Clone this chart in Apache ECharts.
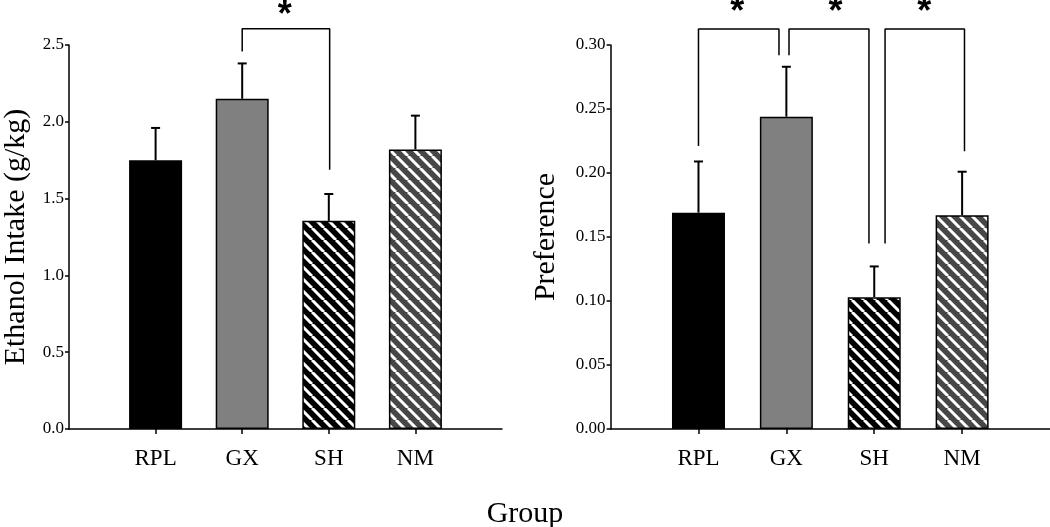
<!DOCTYPE html>
<html>
<head>
<meta charset="utf-8">
<script src="https://cdn.jsdelivr.net/npm/echarts@6/dist/echarts.min.js"></script>
<style>
html,body{margin:0;padding:0;background:#fff;}
#chart{width:1050px;height:527px;}
</style>
</head>
<body>
<div id="chart"></div>
<script>
// ---- data ----
const categories = ['RPL', 'GX', 'SH', 'NM'];
const intakeMean = [1.75, 2.15, 1.355, 1.82];
const intakeSem = [0.21, 0.23, 0.175, 0.22];
const prefMean = [0.169, 0.244, 0.103, 0.167];
const prefSem = [0.040, 0.039, 0.024, 0.034];
const intakeTicks = ['0.0', '0.5', '1.0', '1.5', '2.0', '2.5'];
const prefTicks = ['0.00', '0.05', '0.10', '0.15', '0.20', '0.25', '0.30'];
// significance brackets: [fromPos, toPos, leftFootY, topY, rightFootY]
const intakeBrackets = [[2.0, 3.01, 2.458, 2.606, 1.688]];
const prefBrackets = [
  [1.0, 1.916, 0.221, 0.3125, 0.292],
  [2.03, 2.94, 0.292, 0.3125, 0.145],
  [3.123, 4.027, 0.145, 0.3125, 0.217]
];
// significance stars: [pos, y]
const intakeStars = [[2.49, 2.73]];
const prefStars = [[1.44, 0.330], [2.56, 0.330], [3.57, 0.330]];

// ---- styles ----
function stripes(bg) {
  const c = document.createElement('canvas');
  c.width = 12; c.height = 12;
  const ctx = c.getContext('2d');
  ctx.fillStyle = bg; ctx.fillRect(0, 0, 12, 12);
  ctx.strokeStyle = '#fff'; ctx.lineWidth = 3;
  ctx.beginPath();
  for (let k = -1; k <= 1; k++) { ctx.moveTo(k * 12, 0); ctx.lineTo(k * 12 + 12, 12); }
  ctx.stroke();
  return c;
}
const fills = ['#000000', '#808080', { image: stripes('#000000'), repeat: 'repeat' }, { image: stripes('#474747'), repeat: 'repeat' }];
const serif = 'Liberation Serif';

function barData(means) {
  return means.map((v, i) => ({ value: [i + 1, v], itemStyle: { color: fills[i], borderColor: '#000', borderWidth: 1.5 } }));
}
function errData(means, sems) { return means.map((v, i) => [i + 1, v, sems[i]]); }

function errRender(params, api) {
  const x = api.value(0), m = api.value(1), s = api.value(2);
  const p0 = api.coord([x, m]), p1 = api.coord([x, m + s]);
  const st = { stroke: '#000', lineWidth: 2 };
  return { type: 'group', children: [
    { type: 'line', shape: { x1: p0[0], y1: p0[1], x2: p1[0], y2: p1[1] }, style: st },
    { type: 'line', shape: { x1: p1[0] - 4.5, y1: p1[1], x2: p1[0] + 4.5, y2: p1[1] }, style: st }
  ] };
}
function starRender(params, api) {
  const p = api.coord([api.value(0), api.value(1)]);
  return { type: 'text', style: { text: '*', x: p[0], y: p[1] + 6, align: 'center', verticalAlign: 'middle',
    font: 'bold 36px "Liberation Sans"', fill: '#000' } };
}

function xAxisCfg(gi) {
  return {
    gridIndex: gi, type: 'value', min: 0, max: 5, interval: 1,
    axisLine: { show: true, onZero: false, lineStyle: { color: '#000', width: 1.5 } },
    axisTick: { show: true, length: 5, customValues: [1, 2, 3, 4], lineStyle: { color: '#000', width: 1.5 } },
    axisLabel: { customValues: [1, 2, 3, 4], formatter: v => categories[v - 1] || '', margin: 18,
      fontFamily: serif, fontSize: 23, color: '#000' },
    splitLine: { show: false }
  };
}
function yAxisCfg(gi, max, interval, ticks, name, gap) {
  return {
    gridIndex: gi, type: 'value', min: 0, max: max, interval: interval,
    name: name, nameLocation: 'middle', nameGap: gap,
    nameTextStyle: { fontFamily: serif, fontSize: 30, color: '#000' },
    axisLine: { show: true, lineStyle: { color: '#000', width: 1.5 } },
    axisTick: { show: true, length: 4, lineStyle: { color: '#000', width: 1.5 } },
    axisLabel: { margin: 5, fontFamily: serif, fontSize: 17, color: '#000',
      formatter: v => ticks[Math.round(v / interval)] },
    splitLine: { show: false }
  };
}
function bracketSeries(list, gi) {
  return list.map(b => ({
    type: 'line', xAxisIndex: gi, yAxisIndex: gi, clip: false, symbol: 'none', silent: true, z: 5,
    lineStyle: { color: '#000', width: 1.5 },
    data: [[b[0], b[2]], [b[0], b[3]], [b[1], b[3]], [b[1], b[4]]]
  }));
}

const chart = echarts.init(document.getElementById('chart'), null, { renderer: 'canvas' });
chart.setOption({
  backgroundColor: '#fff',
  animation: false,
  title: { text: 'Group', left: 'center', top: 494,
    textStyle: { fontFamily: serif, fontSize: 30, fontWeight: 'normal', color: '#000' } },
  grid: [
    { left: 66, top: 45, width: 436, height: 384 },
    { left: 610.6, top: 45, width: 439.4, height: 384 }
  ],
  xAxis: [xAxisCfg(0), xAxisCfg(1)],
  yAxis: [
    yAxisCfg(0, 2.5, 0.5, intakeTicks, 'Ethanol Intake (g/kg)', 38),
    yAxisCfg(1, 0.30, 0.05, prefTicks, 'Preference', 49)
  ],
  series: [
    { type: 'bar', xAxisIndex: 0, yAxisIndex: 0, barWidth: 53, data: barData(intakeMean) },
    { type: 'bar', xAxisIndex: 1, yAxisIndex: 1, barWidth: 53, data: barData(prefMean) },
    { type: 'custom', xAxisIndex: 0, yAxisIndex: 0, z: 4, renderItem: errRender, data: errData(intakeMean, intakeSem) },
    { type: 'custom', xAxisIndex: 1, yAxisIndex: 1, z: 4, renderItem: errRender, data: errData(prefMean, prefSem) },
    ...bracketSeries(intakeBrackets, 0),
    ...bracketSeries(prefBrackets, 1),
    { type: 'custom', xAxisIndex: 0, yAxisIndex: 0, z: 6, clip: false, renderItem: starRender, data: intakeStars },
    { type: 'custom', xAxisIndex: 1, yAxisIndex: 1, z: 6, clip: false, renderItem: starRender, data: prefStars }
  ]
});
</script>
</body>
</html>
